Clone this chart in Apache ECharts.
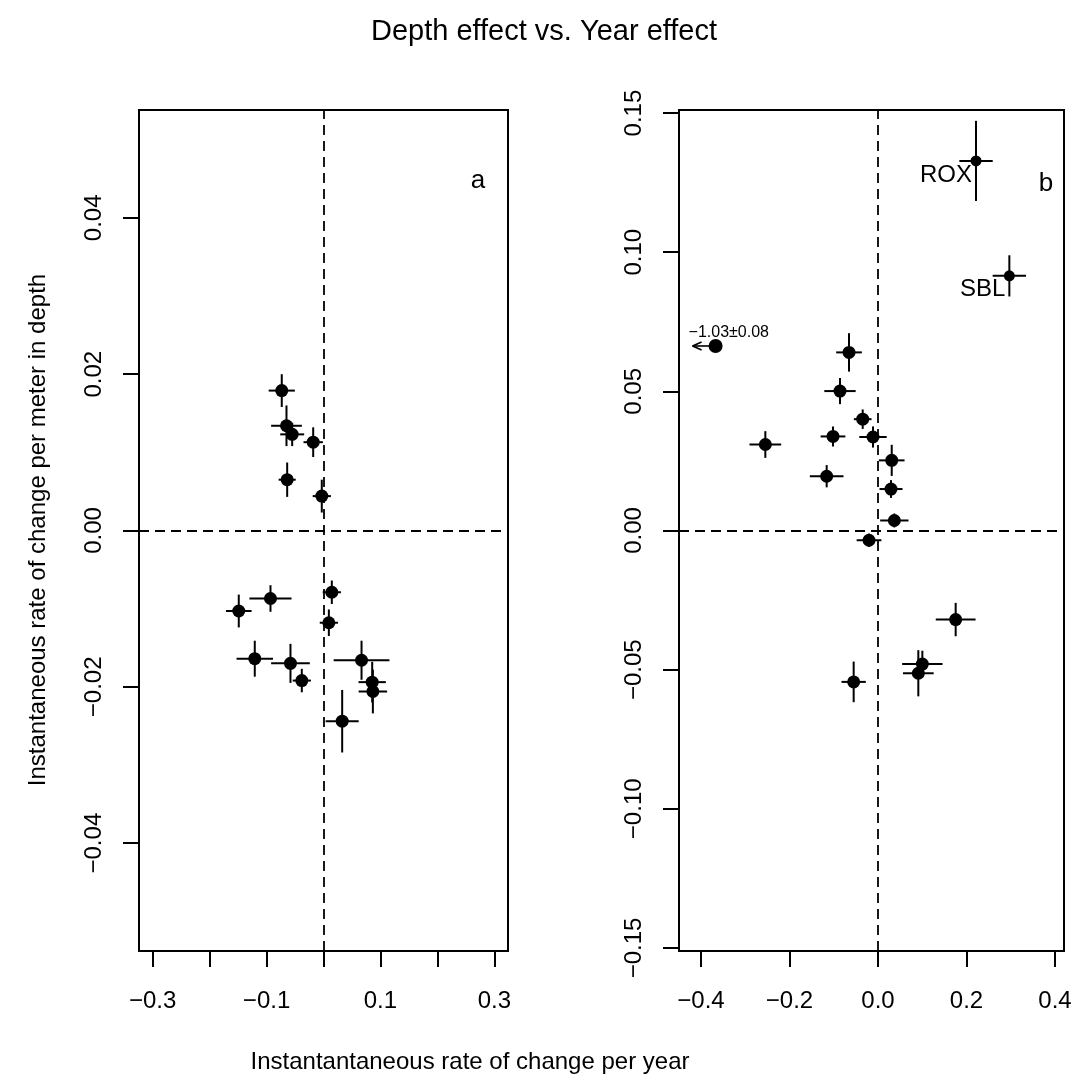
<!DOCTYPE html>
<html>
<head>
<meta charset="utf-8">
<script src="https://cdn.jsdelivr.net/npm/echarts@6/dist/echarts.min.js"></script>
<style>
  html, body { margin: 0; padding: 0; background: #fff; }
  #chart { width: 1088px; height: 1086px; }
</style>
</head>
<body>
<div id="chart"></div>
<script>
// panel a : year effect (x) vs depth effect (y), with +/- errors
const aX    = [-0.0733, -0.0650, -0.0550, -0.0181, -0.0638, -0.0030, 0.0146, -0.1488, -0.0931, 0.0094, -0.1207, -0.0580, -0.0381, 0.0668, 0.0855, 0.0867, 0.0328];
const aY    = [0.0179, 0.0134, 0.0123, 0.0113, 0.0065, 0.0044, -0.0079, -0.0103, -0.0087, -0.0118, -0.0164, -0.0170, -0.0192, -0.0166, -0.0194, -0.0206, -0.0244];
const aXErr = [0.023, 0.027, 0.021, 0.017, 0.015, 0.016, 0.016, 0.0225, 0.037, 0.016, 0.032, 0.034, 0.016, 0.049, 0.024, 0.025, 0.029];
const aYErr = [0.0021, 0.0026, 0.0015, 0.0019, 0.0022, 0.0021, 0.0015, 0.0021, 0.0017, 0.0017, 0.0023, 0.0025, 0.0015, 0.0025, 0.0026, 0.0028, 0.0040];

// panel b (first point is off scale: drawn at the edge with an arrow)
const bX    = [-0.367, -0.0655, -0.0859, -0.0346, -0.1017, -0.0113, -0.2546, 0.031, -0.116, 0.0294, 0.0369, -0.0203, 0.1755, 0.1002, 0.0911, -0.055, 0.2215, 0.2968];
const bY    = [0.0663, 0.0640, 0.0501, 0.0400, 0.0338, 0.0336, 0.0309, 0.0252, 0.0195, 0.0149, 0.0036, -0.0035, -0.0320, -0.0480, -0.0513, -0.0544, 0.1328, 0.0915];
const bXErr = [0, 0.029, 0.0354, 0.020, 0.028, 0.031, 0.0358, 0.029, 0.038, 0.026, 0.032, 0.028, 0.045, 0.0456, 0.0347, 0.0275, 0.0377, 0.0377];
const bYErr = [0, 0.0069, 0.0047, 0.0035, 0.0036, 0.0038, 0.0048, 0.0056, 0.0040, 0.0032, 0.0025, 0.0024, 0.0060, 0.0048, 0.0083, 0.0073, 0.0144, 0.0074];
const bNames = ['', '', '', '', '', '', '', '', '', '', '', '', '', '', '', '', 'ROX', 'SBL'];
const bOffNote = '\u22121.03\u00b10.08';
const bArrowTo = -0.419;

// axes
const aXRange = [-0.324, 0.324];
const aYRange = [-0.0538, 0.0538];
const bXRange = [-0.4497, 0.4203];
const bYRange = [-0.1511, 0.1511];
const aXTicks = [-0.3, -0.2, -0.1, 0, 0.1, 0.2, 0.3];
const aXLabels = [-0.3, -0.1, 0.1, 0.3];
const aYTicks = [-0.04, -0.02, 0, 0.02, 0.04];
const bXTicks = [-0.4, -0.2, 0, 0.2, 0.4];
const bYTicks = [-0.15, -0.1, -0.05, 0, 0.05, 0.1, 0.15];

const FONT = '"Liberation Sans", Arial, Helvetica, sans-serif';

function fmt(digits) {
  return function (v) {
    var s = Math.abs(v).toFixed(digits);
    return (v < -1e-9 ? '\u2212' : '') + s;
  };
}

function xAxisOf(idx, range, ticks, labels) {
  return {
    type: 'value', gridIndex: idx, min: range[0], max: range[1],
    axisLine: { show: true, onZero: false, lineStyle: { color: '#000', width: 2 } },
    axisTick: { show: true, length: 16, customValues: ticks, lineStyle: { color: '#000', width: 2 } },
    axisLabel: { customValues: labels, formatter: fmt(1), fontSize: 24, color: '#000', margin: 38, fontFamily: FONT },
    splitLine: { show: false }
  };
}
function yAxisOf(idx, range, ticks) {
  return {
    type: 'value', gridIndex: idx, min: range[0], max: range[1],
    axisLine: { show: true, onZero: false, lineStyle: { color: '#000', width: 2 } },
    axisTick: { show: true, length: 16, customValues: ticks, lineStyle: { color: '#000', width: 2 } },
    axisLabel: { customValues: ticks, formatter: fmt(2), rotate: 90, fontSize: 24, color: '#000', margin: 33, fontFamily: FONT },
    splitLine: { show: false }
  };
}

// error bars (+ optional labels) drawn with the axis scales
function errorBars(names) {
  return function (params, api) {
    var x = api.value(0), y = api.value(1), ex = api.value(2), ey = api.value(3);
    var st = { stroke: '#000', lineWidth: 2 };
    var kids = [];
    if (ex > 0) {
      var l = api.coord([x - ex, y]), r = api.coord([x + ex, y]);
      kids.push({ type: 'line', shape: { x1: l[0], y1: l[1], x2: r[0], y2: r[1] }, style: st });
    }
    if (ey > 0) {
      var t = api.coord([x, y + ey]), b = api.coord([x, y - ey]);
      kids.push({ type: 'line', shape: { x1: t[0], y1: t[1], x2: b[0], y2: b[1] }, style: st });
    }
    var name = names ? names[params.dataIndex] : '';
    if (name) {
      var p = api.coord([x, y]);
      kids.push({
        type: 'text', x: p[0] - 4, y: p[1] + 14,
        style: { text: name, fill: '#000', font: '24px ' + FONT, align: 'right', verticalAlign: 'middle', textAlign: 'right', textVerticalAlign: 'middle' }
      });
    }
    return { type: 'group', children: kids };
  };
}

// arrow + note for the off-scale point of panel b
function offScale(params, api) {
  var p = api.coord([api.value(0), api.value(1)]);
  var tip = api.coord([bArrowTo, api.value(1)]);
  var st = { stroke: '#000', lineWidth: 1.6 };
  return {
    type: 'group', children: [
      { type: 'line', shape: { x1: p[0], y1: p[1], x2: tip[0], y2: tip[1] }, style: st },
      { type: 'line', shape: { x1: tip[0], y1: tip[1], x2: tip[0] + 9, y2: tip[1] - 4 }, style: st },
      { type: 'line', shape: { x1: tip[0], y1: tip[1], x2: tip[0] + 9, y2: tip[1] + 4 }, style: st },
      {
        type: 'text', x: p[0] - 27, y: p[1] - 13,
        style: { text: bOffNote, fill: '#000', font: '16px ' + FONT, align: 'left', verticalAlign: 'middle', textAlign: 'left', textVerticalAlign: 'middle' }
      }
    ]
  };
}

const zeroLines = {
  silent: true, symbol: 'none', animation: false,
  label: { show: false },
  lineStyle: { color: '#000', type: [10, 6], width: 1.8 },
  data: [{ xAxis: 0 }, { yAxis: 0 }]
};

const aErr = aX.map((v, i) => [v, aY[i], aXErr[i], aYErr[i]]);
const bErr = bX.map((v, i) => [v, bY[i], bXErr[i], bYErr[i]]);

var chart = echarts.init(document.getElementById('chart'), null, { renderer: 'canvas' });
chart.setOption({
  animation: false,
  backgroundColor: '#fff',
  title: {
    text: 'Depth effect vs. Year effect', left: 'center', top: 12,
    textStyle: { fontSize: 29, fontWeight: 'normal', color: '#000', fontFamily: FONT }
  },
  grid: [
    { left: 139, top: 110, width: 369, height: 841, show: true, borderColor: '#000', borderWidth: 2, backgroundColor: 'transparent' },
    { left: 679, top: 110, width: 385, height: 841, show: true, borderColor: '#000', borderWidth: 2, backgroundColor: 'transparent' }
  ],
  xAxis: [
    xAxisOf(0, aXRange, aXTicks, aXLabels),
    xAxisOf(1, bXRange, bXTicks, bXTicks)
  ],
  yAxis: [
    yAxisOf(0, aYRange, aYTicks),
    yAxisOf(1, bYRange, bYTicks)
  ],
  series: [
    {
      type: 'custom', xAxisIndex: 0, yAxisIndex: 0, data: aErr,
      encode: { x: 0, y: 1 }, renderItem: errorBars(null), silent: true
    },
    {
      type: 'scatter', xAxisIndex: 0, yAxisIndex: 0,
      data: aX.map((v, i) => [v, aY[i]]),
      symbolSize: 13, itemStyle: { color: '#000', opacity: 1 },
      markLine: zeroLines
    },
    {
      type: 'custom', xAxisIndex: 1, yAxisIndex: 1, data: bErr,
      encode: { x: 0, y: 1 }, renderItem: errorBars(bNames), silent: true
    },
    {
      type: 'custom', xAxisIndex: 1, yAxisIndex: 1, data: [[bX[0], bY[0]]],
      encode: { x: 0, y: 1 }, renderItem: offScale, silent: true
    },
    {
      type: 'scatter', xAxisIndex: 1, yAxisIndex: 1,
      data: bX.map((v, i) => [v, bY[i]]),
      symbolSize: function (v, p) { return p.dataIndex === 0 ? 14 : (bNames[p.dataIndex] ? 11 : 13); },
      itemStyle: { color: '#000', opacity: 1 },
      markLine: zeroLines
    }
  ],
  graphic: [
    {
      type: 'text', x: 38, y: 530, rotation: Math.PI / 2,
      style: { text: 'Instantaneous rate of change per meter in depth', fill: '#000', font: '24px ' + FONT, textAlign: 'center', textVerticalAlign: 'middle', align: 'center', verticalAlign: 'middle' }
    },
    {
      type: 'text', x: 470, y: 1062,
      style: { text: 'Instantantaneous rate of change per year', fill: '#000', font: '24px ' + FONT, textAlign: 'center', textVerticalAlign: 'middle', align: 'center', verticalAlign: 'middle' }
    },
    {
      type: 'text', x: 478, y: 181,
      style: { text: 'a', fill: '#000', font: '26px ' + FONT, textAlign: 'center', textVerticalAlign: 'middle', align: 'center', verticalAlign: 'middle' }
    },
    {
      type: 'text', x: 1046, y: 184,
      style: { text: 'b', fill: '#000', font: '26px ' + FONT, textAlign: 'center', textVerticalAlign: 'middle', align: 'center', verticalAlign: 'middle' }
    }
  ]
});
</script>
</body>
</html>
